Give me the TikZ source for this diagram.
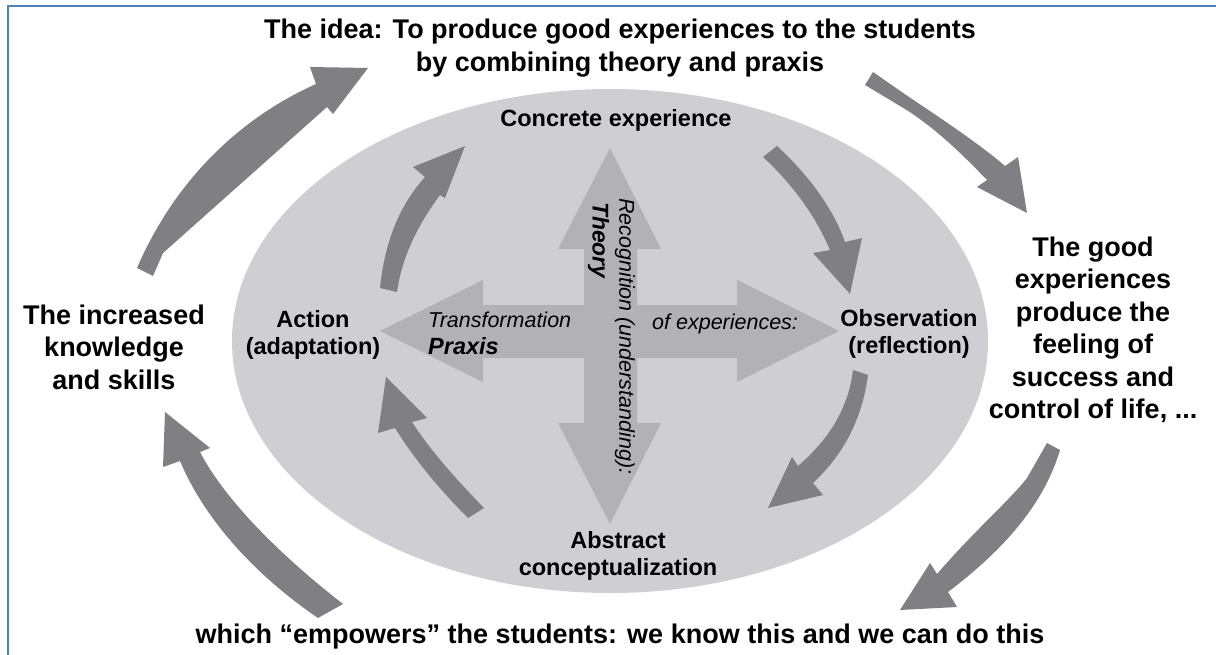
\documentclass[tikz,border=0pt]{standalone}
\usepackage{fontspec}
\setmainfont{Liberation Sans}
\definecolor{ellfill}{RGB}{207,206,210}
\definecolor{crossfill}{RGB}{178,177,182}
\definecolor{darkarrow}{RGB}{128,127,131}
\definecolor{frameblue}{RGB}{79,129,189}
\begin{document}
\begin{tikzpicture}[x=1pt,y=-1pt,
  outertext/.style={font=\fontsize{27}{32.5}\selectfont\bfseries, align=center, inner sep=0pt},
  innertext/.style={font=\fontsize{23.5}{27}\selectfont\bfseries, align=center, inner sep=0pt},
  crosstext/.style={font=\fontsize{21.5}{26}\selectfont\itshape, inner sep=0pt},
  blockarrow/.style={fill=darkarrow},
  crossarrow/.style={fill=crossfill},
  frameline/.style={draw=frameblue, line width=2.5pt}]
\useasboundingbox (0,0) rectangle (1216,655);
% frame
\draw[frameline] (8,655) -- (8,6) -- (1216,6);
% ellipse
\fill[ellfill] (610,341) ellipse [x radius=378, y radius=252];
% cross arrows
\fill[crossarrow] (380,331) -- (483,280) -- (483,305) -- (737,305) -- (737,280) -- (839,331) -- (737,382) -- (737,358) -- (483,358) -- (483,382) -- cycle;
\fill[crossarrow] (610,148) -- (661,249) -- (637,249) -- (637,423) -- (661,423) -- (610,524) -- (558,423) -- (584,423) -- (584,249) -- (558,249) -- cycle;
% inner arrows
\fill[blockarrow] (380,288) .. controls (385,240) and (400,205) .. (425,177) -- (413,167) -- (465,146) -- (445,198) -- (440,195) .. controls (420,222) and (402,255) .. (397,292) -- cycle;
\fill[blockarrow] (763,157) -- (777,146) .. controls (805,172) and (832,205) .. (845,242) -- (862,238) -- (850,294) -- (813,253) -- (830,250) .. controls (815,215) and (793,185) .. (763,157) -- cycle;
\fill[blockarrow] (853,370) .. controls (848,410) and (828,440) .. (798,466) -- (792,457) -- (768,508) -- (823,495) -- (813,483) .. controls (843,455) and (862,420) .. (868,375) -- cycle;
\fill[blockarrow] (468,518) -- (484,508) .. controls (455,478) and (430,450) .. (412,422) -- (427,418) -- (386,377) -- (378,433) -- (395,428) .. controls (415,460) and (440,490) .. (468,518) -- cycle;
% outer arrows
\fill[blockarrow] (137,268) -- (153,276) -- (163,253) -- (327,107) -- (333,114) -- (368,68) -- (310,67) -- (316,84) .. controls (240,118) and (175,180) .. (137,268) -- cycle;
\fill[blockarrow] (865,85) -- (873,72) -- (906,95) .. controls (945,121) and (982,146) .. (1005,166) -- (1018,157) -- (1027,213) -- (977,187) -- (987,180) .. controls (960,152) and (935,128) .. (905,109) -- cycle;
\fill[blockarrow] (1047,443) -- (1060,450) .. controls (1045,500) and (1010,545) .. (948,592) -- (957,607) -- (900,610) -- (930,563) -- (937,574) .. controls (975,530) and (1010,500) .. (1027,478) -- cycle;
\fill[blockarrow] (318,618) -- (343,604) .. controls (280,555) and (225,500) .. (200,452) -- (210,448) -- (165,412) -- (163,467) -- (180,461) .. controls (205,520) and (255,575) .. (318,618) -- cycle;
% texts
\node[outertext] (idea) at (620,48) {The idea: To produce good experiences to the students\\by combining theory and praxis};
\node[outertext] (empower) at (620,637) {which “empowers” the students: we know this and we can do this};
\node[outertext] (increased) at (114,347) {The increased\\knowledge\\and skills};
\node[outertext] (good) at (1093,330) {The good\\experiences\\produce the\\feeling of\\success and\\control of life, ...};
\node[innertext] (concrete) at (616,120) {Concrete experience};
\node[innertext] (action) at (313,335) {Action\\(adaptation)};
\node[innertext] (observation) at (909,334) {Observation\\(reflection)};
\node[innertext] (abstract) at (618,556) {Abstract\\conceptualization};
\node[crosstext, anchor=west] (transf) at (428,320) {Transformation};
\node[crosstext, anchor=west, font=\fontsize{23.5}{27}\selectfont\bfseries\itshape] (praxis) at (428,346) {Praxis};
\node[crosstext, anchor=base west] (ofexp) at (652,329) {of experiences:};
\node[crosstext, rotate=-90, anchor=west] (recog) at (625,198) {Recognition (understanding):};
\node[crosstext, rotate=-90, anchor=west, font=\fontsize{22.8}{27}\selectfont\bfseries\itshape] (theory) at (598.5,202) {Theory};
\end{tikzpicture}
\end{document}
